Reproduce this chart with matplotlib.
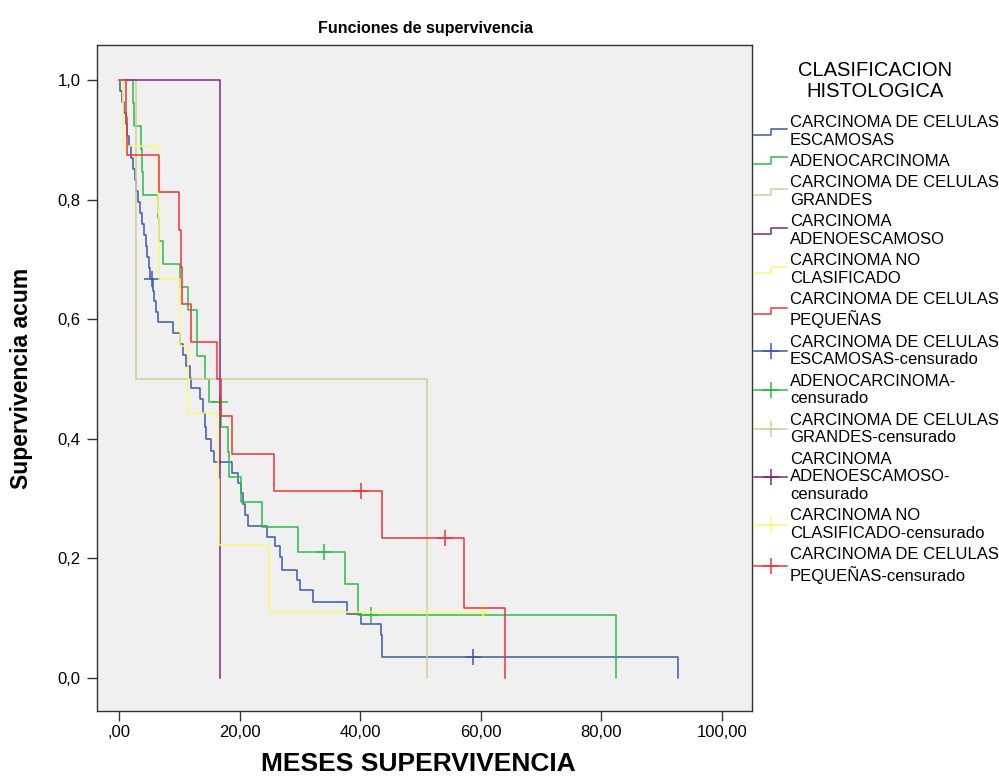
import numpy as np
import matplotlib
matplotlib.use("Agg")
import matplotlib.pyplot as plt
from matplotlib.lines import Line2D
from matplotlib.legend_handler import HandlerBase

plt.rcParams["font.family"] = ["Liberation Sans", "DejaVu Sans"]

# Kaplan-Meier estimates (months, cumulative survival)
esc_t = [0.1, 0.5, 0.8, 1.1, 1.4, 1.7, 2.0, 2.3, 2.6, 2.9, 3.2, 3.5, 3.8, 4.1, 4.4, 4.7, 5.0, 5.2,
         5.6, 5.8, 6.2, 6.5, 9.0, 10.1, 10.6, 11.1, 11.8, 11.9, 13.5, 13.9, 14.3, 14.5, 15.3, 15.8,
         18.8, 19.8, 20.3, 20.6, 20.9, 21.4, 24.5, 25.9, 26.7, 27.0, 29.6, 30.0, 32.2, 37.8, 40.2,
         43.5, 43.6, 43.7, 92.8]
esc_s = [0.981, 0.963, 0.944, 0.926, 0.907, 0.889, 0.870, 0.852, 0.833, 0.815, 0.796, 0.778, 0.759,
         0.741, 0.722, 0.704, 0.685, 0.667,
         0.648, 0.630, 0.612, 0.595, 0.577, 0.559, 0.540, 0.521, 0.502, 0.485, 0.466, 0.443, 0.420,
         0.399, 0.380, 0.362,
         0.343, 0.327, 0.309, 0.291, 0.273, 0.254, 0.236, 0.221, 0.203, 0.181, 0.164, 0.147, 0.128,
         0.108, 0.090, 0.072, 0.054, 0.036, 0.0]
esc_cens = [5.4, 58.8]

ade_t = [2.3, 2.5, 3.7, 3.8, 3.9, 6.5, 6.6, 7.3, 10.1, 11.4, 12.9, 13.0, 14.3, 15.0, 17.0, 18.0,
         18.3, 20.2, 23.8, 29.7, 37.5, 39.6, 82.5]
ade_s = [0.962, 0.923, 0.885, 0.846, 0.808, 0.769, 0.731, 0.692, 0.654, 0.615, 0.577, 0.538, 0.500,
         0.462, 0.420, 0.378, 0.336, 0.294, 0.252, 0.210, 0.158, 0.105, 0.0]
ade_cens = [16.8, 34.0, 41.8]

gra_t = [2.9, 51.1]
gra_s = [0.5, 0.0]
gra_cens = []

aes_t = [16.7]
aes_s = [0.0]
aes_cens = []

ncl_t = [0.6, 6.4, 6.6, 10.1, 11.4, 16.4, 16.6, 24.8, 60.4]
ncl_s = [0.889, 0.778, 0.667, 0.556, 0.444, 0.333, 0.222, 0.111, 0.111]
ncl_cens = [60.4]

peq_t = [1.2, 1.4, 6.6, 10.0, 10.3, 10.4, 11.9, 16.2, 16.9, 18.8, 25.7, 43.7, 57.2, 64.1]
peq_s = [0.938, 0.875, 0.8125, 0.75, 0.6875, 0.625, 0.5625, 0.5, 0.4375, 0.375, 0.3125, 0.234,
         0.117, 0.0]
peq_cens = [40.1, 54.0]

groups = [
    ("CARCINOMA DE CELULAS\nESCAMOSAS", "CARCINOMA DE CELULAS\nESCAMOSAS-censurado",
     esc_t, esc_s, esc_cens, "#3E58AC"),
    ("ADENOCARCINOMA", "ADENOCARCINOMA-\ncensurado", ade_t, ade_s, ade_cens, "#2EB848"),
    ("CARCINOMA DE CELULAS\nGRANDES", "CARCINOMA DE CELULAS\nGRANDES-censurado",
     gra_t, gra_s, gra_cens, "#D3CE97"),
    ("CARCINOMA\nADENOESCAMOSO", "CARCINOMA\nADENOESCAMOSO-\ncensurado",
     aes_t, aes_s, aes_cens, "#7C287D"),
    ("CARCINOMA NO\nCLASIFICADO", "CARCINOMA NO\nCLASIFICADO-censurado",
     ncl_t, ncl_s, ncl_cens, "#FBF873"),
    ("CARCINOMA DE CELULAS\nPEQUEÑAS", "CARCINOMA DE CELULAS\nPEQUEÑAS-censurado",
     peq_t, peq_s, peq_cens, "#EF3338"),
]

x_ticks = [0, 20, 40, 60, 80, 100]
x_ticklabels = [",00", "20,00", "40,00", "60,00", "80,00", "100,00"]
y_ticks = [0.0, 0.2, 0.4, 0.6, 0.8, 1.0]
y_ticklabels = ["0,0", "0,2", "0,4", "0,6", "0,8", "1,0"]


class StepHandler(HandlerBase):
    def create_artists(self, legend, orig_handle, xdescent, ydescent, width, height, fontsize, trans):
        x0 = -xdescent
        xm = x0 + width * 0.5
        x1 = x0 + width
        ylo = -ydescent + height * 0.2
        yhi = -ydescent + height * 0.75
        ln = Line2D([x0, xm, xm, x1], [ylo, ylo, yhi, yhi], color=orig_handle.get_color(),
                    lw=orig_handle.get_linewidth())
        ln.set_transform(trans)
        return [ln]


def surv_at(t, s, x):
    tt = np.asarray([0.0] + list(t))
    ss = np.asarray([1.0] + list(s))
    idx = np.searchsorted(tt, x, side="right") - 1
    return ss[idx]


fig = plt.figure(figsize=(9.99, 7.81), dpi=100)
ax = fig.add_axes([97 / 999, 1 - 711 / 781, (752 - 97) / 999, (711 - 45) / 781])
ax.set_facecolor("#F0F0F0")

step_handles, cens_handles = [], []
step_labels, cens_labels = [], []
for label, clabel, t, s, cens, color in groups:
    xs = [0.0] + list(t)
    ys = [1.0] + list(s)
    ln, = ax.step(xs, ys, where="post", color=color, lw=1.1)
    if cens:
        cy = [surv_at(t, s, c) for c in cens]
        ax.plot(cens, cy, ls="none", marker="+", ms=12, mew=1.1, color=color)
    step_handles.append(ln)
    step_labels.append(label)
    cens_handles.append(Line2D([], [], color=color, lw=1.1, marker="+", ms=12, mew=1.1))
    cens_labels.append(clabel)

ax.set_xlim(-3.65, 105)
ax.set_ylim(-0.055, 1.0585)
ax.set_xticks(x_ticks)
ax.set_xticklabels(x_ticklabels)
ax.set_yticks(y_ticks)
ax.set_yticklabels(y_ticklabels)
ax.tick_params(axis="both", direction="out", length=7, width=1, color="#333333",
               labelsize=12)
ax.tick_params(axis="y", pad=5)
ax.tick_params(axis="x", pad=3)
for sp in ax.spines.values():
    sp.set_color("#333333")
    sp.set_linewidth(1.0)

ax.set_xlabel("MESES SUPERVIVENCIA", fontsize=19, fontweight="bold")
ax.xaxis.set_label_coords(0.49, -0.062)
ax.set_ylabel("Supervivencia acum", fontsize=16.5, fontweight="bold")
ax.yaxis.set_label_coords(-0.098, 0.5)
fig.text(425 / 999, 1 - 29 / 781, "Funciones de supervivencia", fontsize=11.5, fontweight="bold",
         ha="center", va="center")

# legend title drawn as its own text block
fig.text(875 / 999, 1 - 81 / 781, "CLASIFICACION\nHISTOLOGICA", fontsize=14.5,
         ha="center", va="center", multialignment="center", linespacing=1.15)

handler_map = {h: StepHandler() for h in step_handles}
leg = fig.legend(step_handles + cens_handles, step_labels + cens_labels,
                 loc="upper left", bbox_to_anchor=(754 / 999, 1 - 115 / 781),
                 frameon=False, fontsize=12, handlelength=2.0, handletextpad=0.15,
                 labelspacing=0.38, borderpad=0, borderaxespad=0,
                 handler_map=handler_map)
for txt in leg.get_texts():
    txt.set_linespacing(1.22)

fig.savefig("out.png", dpi=100)
